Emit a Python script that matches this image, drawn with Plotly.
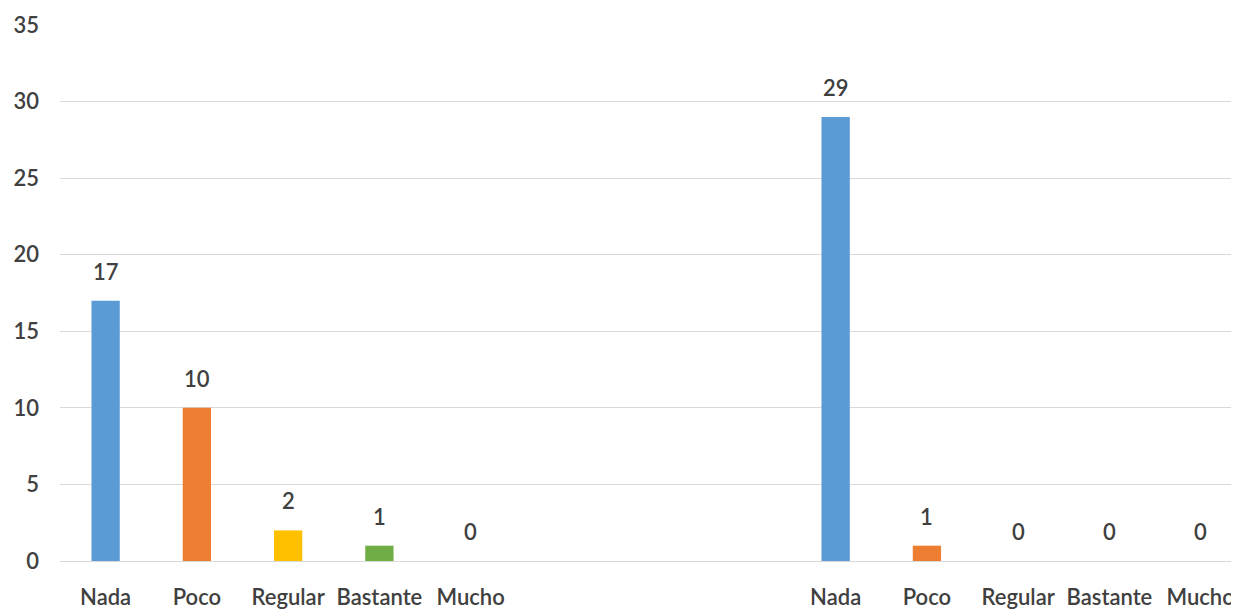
import plotly.graph_objects as go

categories = ["Nada", "Poco", "Regular", "Bastante", "Mucho"]
group1_values = [17, 10, 2, 1, 0]
group2_values = [29, 1, 0, 0, 0]
colors = ["#5B9BD5", "#ED7D31", "#FFC000", "#70AD47", "#A5A5A5"]
y_ticks = [0, 5, 10, 15, 20, 25, 30, 35]

GAP = 3  # empty slots between the two groups
n = len(categories)
x1 = list(range(n))
x2 = [i + n + GAP for i in range(n)]
xs = x1 + x2
vals = group1_values + group2_values
cols = colors + colors
labels = categories + categories

font_family = "Lato, Open Sans, sans-serif"
text_color = "#404040"
fw = 600
fs = 22

fig = go.Figure()
fig.add_trace(go.Bar(
    x=xs, y=vals, marker=dict(color=cols, line=dict(width=0)),
    width=0.31, showlegend=False, hoverinfo="x+y",
))

for x, v in zip(xs, vals):
    fig.add_annotation(
        x=x, y=v, text=str(v), showarrow=False, yanchor="bottom",
        yshift=14, font=dict(size=fs, color=text_color, family=font_family, weight=fw),
    )

fig.update_layout(
    width=1231, height=602,
    margin=dict(l=52, r=0, t=17, b=49),
    plot_bgcolor="white", paper_bgcolor="white",
    font=dict(family=font_family, color=text_color, size=fs),
)
fig.update_xaxes(
    range=[-0.5, 12.42], tickmode="array", tickvals=xs, ticktext=labels,
    showgrid=False, zeroline=False, showline=False, ticks="",
    tickfont=dict(size=fs, color=text_color, weight=fw), ticklabelstandoff=21,
    automargin=False, ticklabeloverflow="allow",
)
fig.update_yaxes(
    range=[0, 35], tickmode="array", tickvals=y_ticks,
    showgrid=True, gridcolor="#D9D9D9", gridwidth=1,
    zeroline=True, zerolinecolor="#D9D9D9", zerolinewidth=1,
    showline=False, ticks="", tickfont=dict(size=fs, color=text_color, weight=fw),
    ticklabelstandoff=20, automargin=False, ticklabeloverflow="allow",
)

fig.write_html("out.html")
